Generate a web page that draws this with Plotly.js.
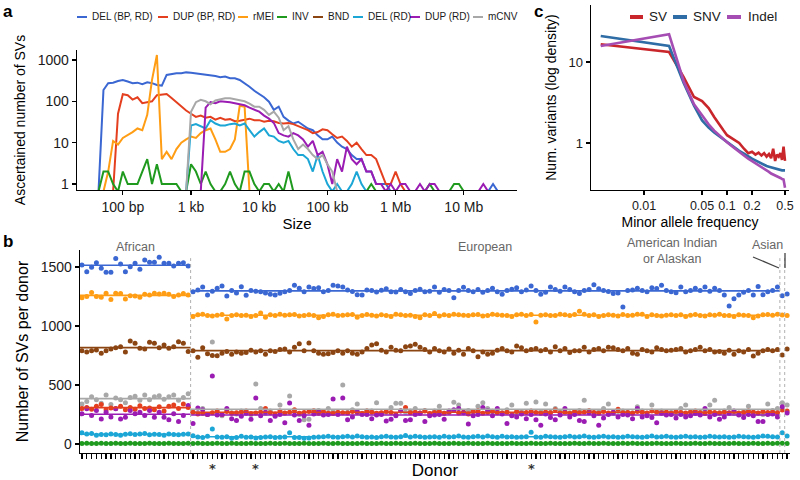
<!DOCTYPE html>
<html><head><meta charset="utf-8">
<script src="https://cdn.plot.ly/plotly-3.0.1.min.js"></script>
<style>html,body{margin:0;padding:0;background:#fff}#chart{width:800px;height:480px}</style>
</head><body><div id="chart"></div>
<script>
// ================= DATA =================
const svTypes  = ['DEL (BP, RD)','DUP (BP, RD)','rMEI','INV','BND','DEL (RD)','DUP (RD)','mCNV'];
const svColors = ['#3a67d2','#e4401f','#ff9d14','#1f9a1f','#8b4513','#1ba6d6','#9a1cb3','#a8a8a8'];

// Panel a: size bins (bp), 14 bins per decade
const sizeBins = [32,37,44,52,61,72,85,100,118,139,164,193,228,268,316,373,439,518,611,720,848,
1000,1179,1389,1638,1931,2276,2683,3162,3728,4394,5179,6105,7197,8483,
10000,11788,13895,16379,19307,22758,26827,31623,37276,43940,51795,61054,71969,84834,
100000,117877,138950,163789,193070,227585,268270,316228,372759,439397,517947,610540,719686,848343,
1000000,1178769,1389495,1637894,1930698,2275846,2682696,3162278,3727594,4393971,5179475,6105402,7196857,8483429,
10000000,11787686,13894955,16378937,19306977,22758459,26826958,31622777,37275937,43939706,51794747];
const sizeTicks = [100,1000,10000,100000,1000000,10000000];
const sizeTickText = ['100 bp','1 kb','10 kb','100 kb','1 Mb','10 Mb'];

// counts per size bin; each series begins at bin index aStart[s]
const aStart = [2,5,3,2,null,20,23,20];
const aDEL = [0,187,274,282,310,328,300,274,282,258,288,274,249,240,434,458,475,475,500,490,475,458,442,418,410,380,395,360,360,328,274,225,180,150,125,98,62,74,42,34,29,32,27,22,20,15,12,12,14,10,8,7,5,4,4,2,2,1,1,1,0,
0,0,0,0,0,0,0,0,0,0,0,0,0,0,0,0,0,0,0,0,1,0];
const aDUP = [0,50,148,140,110,125,90,95,100,140,145,150,120,95,75,60,50,42,45,40,42,36,40,36,37,33,34,36,38,35,35,32,34,33,30,29,30,28,25,22,20,17,18,21,20,16,13,14,11,8,10,7,5,5,4,2,1,1,2,1,0];
const aMEI = [0,2,11,9,13,15,18,22,20,47,330,1320,4,6,4,7,10,12,14,13,17,20,22,12,6,6,7,12,78,74,0];
const aINV = [0,2,2,1,0,2,1,1,1,2,4,1,3,1,1,1,1,0,0,3,2,1,2,1,0,0,1,2,1,0,2,2,1,0,1,1,0,1,0,2,0,
0,0,0,0,0,0,0,0,0,0,0,0,0,0,0,1,0,0,0,0,0,0,0,0,0,0,0,1,0,0,0,0,1,1,0];
const aBND = [];
const aDELRD = [0,26,28,25,22,35,29,26,26,28,29,26,29,20,14,18,22,15,14,11,10,11,7,5,5,4,2,5,2,1,0,1,0,0,1,2,1,0];
const aDUPRD = [0,70,95,90,100,98,95,90,85,80,70,62,56,45,38,30,17,15,14,17,15,12,8,11,5,6,3,1,4,2,8,4,3,4,2,2,1,1,0,1,0,1,1,0,0,1,0,1,1,0,0,0,0,0,0,0,0,0,1,0];
const aMCNV = [0,56,95,108,100,85,105,110,118,118,112,108,100,88,74,74,62,47,56,40,20,25,12,7,9,7,5,4,5,3,2,0];

// Panel b: SVs per donor (donors ordered by ancestry group)
const groups = ['African','European','American Indian\nor Alaskan','Asian'];
const groupSizes = [23,122,1,1];
const starredDonors = [27,36,93];
const bDEL = [1517,1460,1497,1537,1489,1455,1455,1573,1525,1460,1503,1531,1480,1559,1540,1540,1582,1531,1531,1508,1531,1537,1508,
1290,1305,1330,1262,1295,1320,1338,1255,1300,1280,
1333,1260,1300,1295,1290,1280,1270,1262,1278,1290,
1300,1345,1320,1290,1330,1318,1325,1290,1300,1345,
1340,1330,1305,1292,1265,1262,1305,1300,1288,1302,
1315,1290,1288,1310,1290,1275,1300,1312,1290,1295,
1330,1285,1310,1300,1240,1300,1328,1300,1290,1310,
1285,1300,1320,1290,1270,1300,1312,1325,1290,1305,
1340,1300,1270,1285,1330,1310,1295,1330,1310,1290,
1275,1300,1310,1350,1315,1300,1292,1275,1280,1161,
1300,1305,1320,1300,1290,1325,1318,1345,1300,1290,
1282,1330,1290,1300,1320,1300,1330,1295,1320,1300,
1262,1170,1230,1262,1285,1300,1262,1335,1265,1290,
1300,1330,
1256,1271];
const bDUP = [300,310,295,320,335,290,305,300,320,290,310,295,325,300,305,290,315,280,320,330,300,340,310,
270,255,260,250,265,280,250,275,260,265,
270,280,258,262,270,300,265,255,280,262,
270,290,260,268,275,282,260,275,260,258,
270,265,262,275,268,258,280,270,260,265,
275,268,250,282,310,265,270,262,280,258,
268,275,260,270,285,262,270,255,275,282,
260,268,278,265,262,270,250,275,262,268,
280,268,260,272,265,290,262,270,258,275,
265,270,282,268,260,275,262,270,295,265,
268,260,275,270,262,280,270,265,272,260,
275,268,262,270,280,265,258,272,268,262,
270,265,275,262,268,280,270,262,275,268,
270,265,
288,280];
const bMEI = [1240,1250,1283,1250,1243,1277,1225,1277,1275,1228,1257,1254,1243,1269,1263,1277,1271,1277,1269,1249,1263,1275,1263,
1080,1095,1100,1090,1085,1092,1098,1060,1090,1095,
1088,1092,1080,1090,1110,1075,1095,1090,1100,1092,
1095,1098,1085,1090,1095,1090,1070,1080,1095,1100,
1088,1092,1095,1098,1075,1090,1098,1092,1085,1095,
1090,1080,1100,1095,1088,1092,1080,1070,1095,1090,
1105,1085,1095,1090,1100,1095,1092,1088,1095,1098,
1085,1090,1100,1095,1092,1090,1080,1095,1100,1090,
1098,1035,1092,1095,1090,1088,1100,1095,1090,1098,
1125,1100,1088,1095,1080,1090,1095,1092,1085,1098,
1090,1092,1100,1100,1080,1095,1088,1085,1092,1095,
1088,1095,1080,1092,1098,1090,1085,1095,1092,1100,
1090,1088,1080,1095,1092,1090,1070,1085,1095,1098,
1092,1100,
1093,1090];
const bINV = [5,6,4,5,7,5,4,6,5,5,6,4,5,5,6,5,4,5,6,5,5,4,6,
5,6,4,5,5,7,4,5,6,5,
4,5,6,5,5,4,6,5,5,7,
5,4,5,6,5,5,4,6,5,5,
6,5,4,5,5,6,5,4,5,6,
5,5,6,4,5,5,6,5,4,5,
6,5,5,4,6,5,5,6,4,5,
5,6,5,4,5,5,6,5,5,4,
6,5,4,5,6,5,5,4,5,6,
5,4,6,5,5,6,4,5,5,6,
5,6,5,4,5,5,6,5,4,5,
6,5,5,4,6,5,5,6,5,4,
5,5,6,5,4,5,6,5,5,6,
5,6,
6,5];
const bBND = [790,780,790,797,770,790,805,816,825,780,873,853,811,805,862,853,816,839,811,825,867,853,783,
790,735,815,765,750,748,770,785,760,780,
770,775,795,780,790,760,790,785,800,805,
780,820,850,790,855,790,770,760,765,775,
790,770,790,770,760,780,810,840,850,795,
780,820,795,790,825,830,845,820,800,780,
810,790,780,805,770,795,760,810,790,740,
780,760,770,795,810,790,780,830,815,790,
800,810,790,800,780,825,790,810,775,790,
790,820,780,800,810,790,820,815,800,790,
810,770,760,800,790,780,815,800,790,795,
800,810,780,790,800,820,790,800,780,785,
770,795,760,790,780,800,745,770,790,800,
790,800,
754,805];
const bDELRD = [95,85,90,75,80,78,85,80,75,82,88,80,85,90,78,82,80,75,85,80,78,82,85,
70,60,55,65,127,60,58,62,50,55,
65,58,60,52,55,60,62,55,58,60,
95,55,55,50,52,58,60,62,65,60,
58,62,65,60,68,62,58,60,55,62,
65,60,58,62,72,60,65,62,58,60,
62,58,65,60,62,68,60,58,62,65,
60,68,62,58,65,60,62,58,60,62,
100,60,58,65,62,60,58,62,65,60,
62,68,60,58,62,65,60,62,58,60,
65,62,60,58,62,68,60,62,65,60,
58,62,65,60,62,58,60,65,62,60,
62,58,60,65,62,60,58,62,68,65,
62,60,
96,68];
const bDUPRD = [256,298,242,284,213,270,228,298,213,227,284,256,270,242,284,227,270,227,205,256,190,242,326,
175,305,290,250,576,245,250,300,215,200,
235,260,210,390,240,270,200,235,250,180,
347,245,200,240,160,255,275,245,250,381,
250,390,205,230,275,250,250,215,245,250,
195,210,240,280,200,205,250,260,190,240,
245,250,210,280,290,300,265,170,240,250,
310,285,240,300,255,175,240,230,255,215,
250,205,160,255,225,205,245,300,230,250,
200,190,265,240,160,220,250,270,230,250,
245,215,300,230,240,225,180,260,245,250,
220,250,230,240,260,245,300,230,250,210,
230,260,280,245,225,250,240,190,190,250,
255,230,
316,262];
const bMCNV = [340,360,400,375,345,415,335,390,375,350,395,405,370,415,375,400,410,380,400,415,370,395,425,
270,265,300,250,864,260,240,290,265,255,
280,270,250,508,300,260,280,240,330,260,
407,280,250,205,210,270,285,260,300,275,
260,500,270,290,340,260,280,280,350,260,
270,310,345,345,270,280,300,260,285,250,
280,320,260,270,355,330,270,285,265,320,
350,300,270,280,265,290,330,260,275,345,
265,356,275,340,270,300,275,280,265,270,
285,370,280,265,275,300,340,260,275,280,
270,265,315,280,260,330,275,280,265,270,
260,300,330,275,260,270,285,330,370,265,
280,310,260,250,275,320,270,260,250,340,
285,300,
350,330];
const bSeries = [bDEL,bDUP,bMEI,bINV,bBND,bDELRD,bDUPRD,bMCNV];

// Panel c: site frequency spectrum
const varTypes = ['SV','SNV','Indel'];
const varColors = ['#c9262b','#2e6da5','#a64db3'];
const mafBins = [0.003,0.02,0.03,0.04,0.05,0.06,0.07,0.08,0.09,0.1,0.12,0.14,0.16,0.18,0.2,0.22,0.24,0.26,0.28,0.3,0.32,0.34,0.36,0.38,0.4,0.42,0.44,0.46,0.48,0.5];
const sfsSV    = [16.6,13.3,6.5,3.7,3.3,2.7,2.1,1.7,1.45,1.25,1.12,1.0,0.85,0.75,0.78,0.72,0.76,0.7,0.75,0.68,0.73,0.65,0.85,0.6,0.72,0.68,0.75,0.62,0.9,0.6];
const sfsSNV   = [21,15.8,5.5,2.9,1.9,1.55,1.35,1.22,1.12,1.03,0.9,0.8,0.74,0.68,0.64,0.61,0.58,0.56,0.54,0.52,0.51,0.5,0.49,0.48,0.475,0.47,0.465,0.46,0.46,0.46];
const sfsIndel = [15.8,22,5.8,3.0,2.2,1.7,1.42,1.25,1.12,1.02,0.88,0.77,0.7,0.64,0.6,0.56,0.53,0.5,0.48,0.46,0.44,0.42,0.41,0.4,0.39,0.38,0.37,0.36,0.355,0.28];
const sfsSeries = [sfsSV,sfsSNV,sfsIndel];

// ================= CHART =================
const FONT = 'Liberation Sans, Arial, Helvetica, sans-serif';
const TXT = '#1a1a1a';
const px = v => v/800, py = v => 1 - v/480;
const traces = [];

// --- panel a ---
const aCounts = [aDEL,aDUP,aMEI,aINV,aBND,aDELRD,aDUPRD,aMCNV];
const AXIS_FLOOR = 0.66; // zero counts drawn at the panel bottom edge
function prepCounts(arr){
  return arr.map((v,i)=>{
    if(v>0) return v;
    const p = arr[i-1], n = arr[i+1];
    if((p===undefined||p===0)&&(n===undefined||n===0)) return null;
    return AXIS_FLOOR;
  });
}
aCounts.forEach((arr,s)=>{
  if(!arr.length) return;
  traces.push({
    type:'scatter', mode:'lines', xaxis:'x', yaxis:'y', name:svTypes[s],
    x: arr.map((_,j)=>sizeBins[aStart[s]+j]), y: prepCounts(arr),
    line:{color:svColors[s], width:2}, connectgaps:false, hoverinfo:'skip'
  });
});

// --- panel b ---
const nDonors = groupSizes.reduce((a,b)=>a+b,0);
const donorIdx = Array.from({length:nDonors},(_,i)=>i);
const bounds = []; let acc = 0;
groupSizes.forEach(g=>{ bounds.push([acc, acc+g-1]); acc += g; });
const drawOrder = [0,2,4,7,1,6,5,3];
drawOrder.forEach(s=>{
  traces.push({
    type:'scatter', mode:'markers', xaxis:'x2', yaxis:'y2', name:svTypes[s],
    x: donorIdx, y: bSeries[s], marker:{color:svColors[s], size:5}, hoverinfo:'skip'
  });
});
drawOrder.forEach(s=>{
  bounds.forEach(([a,b])=>{
    if(b-a < 1) return;
    const vals = bSeries[s].slice(a,b+1);
    const m = vals.reduce((p,c)=>p+c,0)/vals.length;
    traces.push({type:'scatter', mode:'lines', xaxis:'x2', yaxis:'y2',
      x:[a-0.5,b+0.5], y:[m,m], line:{color:svColors[s], width:1.6}, hoverinfo:'skip'});
  });
});

// --- panel c ---
sfsSeries.forEach((arr,s)=>{
  traces.push({type:'scatter', mode:'lines', xaxis:'x3', yaxis:'y3', name:varTypes[s],
    x:mafBins, y:arr, line:{color:varColors[s], width:2.6}, hoverinfo:'skip'});
});

const axBase = {showgrid:false, zeroline:false, showline:true, linecolor:'#000', linewidth:1.4,
  ticks:'outside', ticklen:4, tickwidth:1.2, tickcolor:'#000', fixedrange:true};
const shapes = [], annotations = [];

// legend panel a (drawn in the style of the original)
const legAX = [77,158,238,277,313,353,410,473];
svTypes.forEach((t,s)=>{
  shapes.push({type:'line', xref:'paper', yref:'paper', x0:px(legAX[s]), x1:px(legAX[s]+10), y0:py(17), y1:py(17), line:{color:svColors[s], width:2}});
  annotations.push({xref:'paper', yref:'paper', x:px(legAX[s]+13), y:py(17), xanchor:'left', yanchor:'middle', text:t, showarrow:false, font:{family:FONT,size:10,color:TXT}});
});
// legend panel c
const legCX = [[630,643,647],[673,687,691],[727,741,746]];
varTypes.forEach((t,s)=>{
  shapes.push({type:'line', xref:'paper', yref:'paper', x0:px(legCX[s][0]), x1:px(legCX[s][1]), y0:py(17), y1:py(17), line:{color:varColors[s], width:4}});
  annotations.push({xref:'paper', yref:'paper', x:px(legCX[s][2]), y:py(17), xanchor:'left', yanchor:'middle', text:t, showarrow:false, font:{family:FONT,size:13.5,color:TXT}});
});
// panel letters
[['a',8,11],['b',8,241],['c',538,11]].forEach(([t,x,y])=>annotations.push({xref:'paper',yref:'paper',x:px(x),y:py(y),text:'<b>'+t+'</b>',showarrow:false,xanchor:'center',yanchor:'middle',font:{family:FONT,size:17,color:'#000'}}));

// group separators & labels panel b
bounds.slice(0,-1).forEach(([a,b])=>{
  shapes.push({type:'line', xref:'x2', yref:'y2 domain', x0:b+0.5, x1:b+0.5, y0:0, y1:0.96, line:{color:'#b0b0b0', width:1, dash:'dot'}});
});
const GCOL = '#666';
annotations.push({xref:'x2', yref:'paper', x:(bounds[0][0]+bounds[0][1])/2, y:py(247), text:groups[0], showarrow:false, font:{family:FONT,size:12.5,color:GCOL}});
annotations.push({xref:'x2', yref:'paper', x:(bounds[1][0]+bounds[1][1])/2, y:py(247), text:groups[1], showarrow:false, font:{family:FONT,size:12.5,color:GCOL}});
annotations.push({xref:'paper', yref:'paper', x:px(719), y:py(251), text:groups[2].replace('\n','<br>'), showarrow:false, align:'center', font:{family:FONT,size:12.5,color:GCOL}});
annotations.push({xref:'paper', yref:'paper', x:px(785), y:py(245), text:groups[3], showarrow:false, font:{family:FONT,size:12.5,color:GCOL}});
shapes.push({type:'line', xref:'paper', yref:'paper', x0:px(753), y0:py(257), x1:px(779), y1:py(268), line:{color:'#444', width:1.3}});
shapes.push({type:'line', xref:'paper', yref:'paper', x0:px(785), y0:py(253), x1:px(785), y1:py(268), line:{color:'#444', width:1.3}});
starredDonors.forEach(d=>annotations.push({xref:'x2', yref:'paper', x:d, y:py(468), yanchor:'middle', text:'<b>*</b>', showarrow:false, font:{family:'DejaVu Sans, sans-serif',size:13,color:'#333'}}));

const layout = {
  width:800, height:480, margin:{l:0,r:0,t:0,b:0}, showlegend:false,
  paper_bgcolor:'#fff', plot_bgcolor:'#fff', hovermode:false,
  font:{family:FONT, color:TXT},
  xaxis: {...axBase, type:'log', domain:[px(77),px(517)], range:[1.328,7.78], anchor:'y',
    tickvals:sizeTicks, ticktext:sizeTickText, tickfont:{family:FONT,size:14,color:TXT},
    title:{text:'Size', font:{family:FONT,size:15,color:'#000'}, standoff:4}},
  yaxis: {...axBase, type:'log', domain:[py(190),py(50)], range:[-0.145,3.24], anchor:'x',
    tickvals:[1,10,100,1000], ticktext:['1','10','100','1000'], tickfont:{family:FONT,size:14,color:TXT},
    title:{text:'Ascertained number of SVs', font:{family:FONT,size:14,color:'#000'}, standoff:8}},
  xaxis2: {...axBase, domain:[px(80),px(790)], range:[-0.4,146.6], anchor:'y2',
    tickvals:donorIdx, showticklabels:false, ticklen:5,
    title:{text:'Donor', font:{family:FONT,size:17,color:'#000'}, standoff:6}},
  yaxis2: {...axBase, domain:[py(453),py(250)], range:[-76,1644], anchor:'x2',
    tickvals:[0,500,1000,1500], tickfont:{family:FONT,size:14,color:TXT},
    title:{text:'Number of SVs per donor', font:{family:FONT,size:16,color:'#000'}, standoff:8}},
  xaxis3: {...axBase, type:'log', domain:[px(591),px(789)], range:[-2.64,-0.253], anchor:'y3',
    tickvals:[0.01,0.05,0.1,0.2,0.5], ticktext:['0.01','0.05','0.1','0.2','0.5'], tickfont:{family:FONT,size:12.5,color:TXT},
    title:{text:'Minor allele frequency', font:{family:FONT,size:14,color:'#000'}, standoff:4}},
  yaxis3: {...axBase, type:'log', domain:[py(190),py(5)], range:[-0.58,1.704], anchor:'x3',
    tickvals:[1,10], ticktext:['1','10'], tickfont:{family:FONT,size:13,color:TXT},
    title:{text:'Num. variants (log density)', font:{family:FONT,size:14,color:'#000'}, standoff:8}},
  shapes, annotations
};
Plotly.newPlot('chart', traces, layout, {displayModeBar:false, staticPlot:true});
</script></body></html>
